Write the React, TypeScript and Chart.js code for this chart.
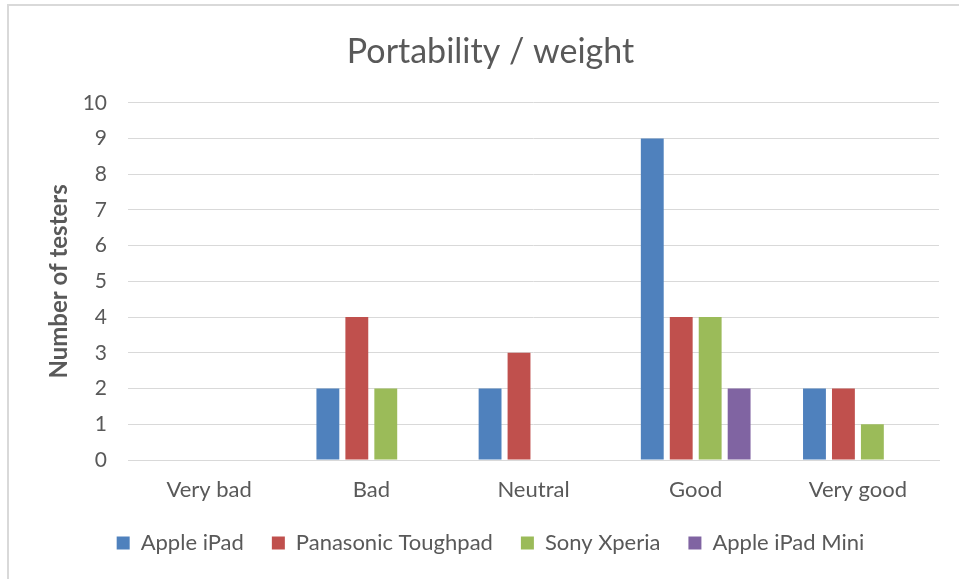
import React, { useEffect, useRef } from "react";
import { Chart, registerables } from "chart.js";

Chart.register(...registerables);

const categories = ["Very bad", "Bad", "Neutral", "Good", "Very good"];
const appleIpad = [0, 2, 2, 9, 2];
const panasonicToughpad = [0, 4, 3, 4, 2];
const sonyXperia = [0, 2, 0, 4, 1];
const appleIpadMini = [0, 0, 0, 2, 0];
const seriesNames = ["Apple iPad", "Panasonic Toughpad", "Sony Xperia", "Apple iPad Mini"];
const seriesColors = ["#4F81BD", "#C0504D", "#9BBB59", "#8064A2"];
const yTicks = [0, 1, 2, 3, 4, 5, 6, 7, 8, 9, 10];

const FONT = "Lato, 'Open Sans', sans-serif";
const TEXT = "#595959";
const GRID = "#d9d9d9";

export default function App() {
  const ref = useRef<HTMLCanvasElement>(null);
  useEffect(() => {
    document.body.style.overflow = "hidden";
    const values = [appleIpad, panasonicToughpad, sonyXperia, appleIpadMini];
    const chart = new Chart(ref.current!, {
      type: "bar",
      data: {
        labels: categories,
        datasets: values.map((v, i) => ({
          label: seriesNames[i],
          data: v,
          backgroundColor: seriesColors[i],
          borderWidth: 0,
          categoryPercentage: 0.714,
          barPercentage: 0.79,
        })),
      },
      options: {
        animation: false,
        responsive: false,
        maintainAspectRatio: false,
        layout: { padding: { left: 33, right: 20, top: 0, bottom: 0 } },
        plugins: {
          tooltip: { enabled: false },
          title: {
            display: true,
            text: "Portability / weight",
            color: TEXT,
            font: { family: FONT, size: 34, weight: "normal", lineHeight: 1.2 },
            padding: { top: 26, bottom: 30 },
          },
          legend: {
            position: "bottom",
            labels: {
              color: TEXT,
              font: { family: FONT, size: 22 },
              boxWidth: 13,
              boxHeight: 13,
              padding: 28,
            },
          },
        },
        scales: {
          x: {
            grid: { display: false, drawTicks: false },
            border: { display: true, color: GRID, width: 1 },
            ticks: { color: TEXT, font: { family: FONT, size: 22 }, padding: 17 },
            afterFit: (s: any) => { s.height = 44; },
          },
          y: {
            min: 0,
            max: 10,
            afterBuildTicks: (s: any) => { s.ticks = yTicks.map((v) => ({ value: v })); },
            grid: { color: GRID, lineWidth: 1, drawTicks: false },
            border: { display: false },
            ticks: { color: TEXT, font: { family: FONT, size: 21 }, padding: 21 },
            title: {
              display: true,
              text: "Number of testers",
              color: TEXT,
              font: { family: FONT, size: 24, weight: "bold" },
              padding: { top: 3, bottom: 0 },
            },
            afterFit: (s: any) => { s.width = 86; },
          },
        },
      },
    });
    return () => chart.destroy();
  }, []);
  return (
    <div
      style={{
        position: "absolute",
        left: 7,
        top: 4,
        width: 952,
        height: 575,
        borderLeft: "2px solid #d9d9d9",
        borderTop: "2px solid #d9d9d9",
        overflow: "hidden",
        background: "#fff",
      }}
    >
      <canvas ref={ref} width={950} height={558} style={{ display: "block", width: 950, height: 558 }} />
    </div>
  );
}
